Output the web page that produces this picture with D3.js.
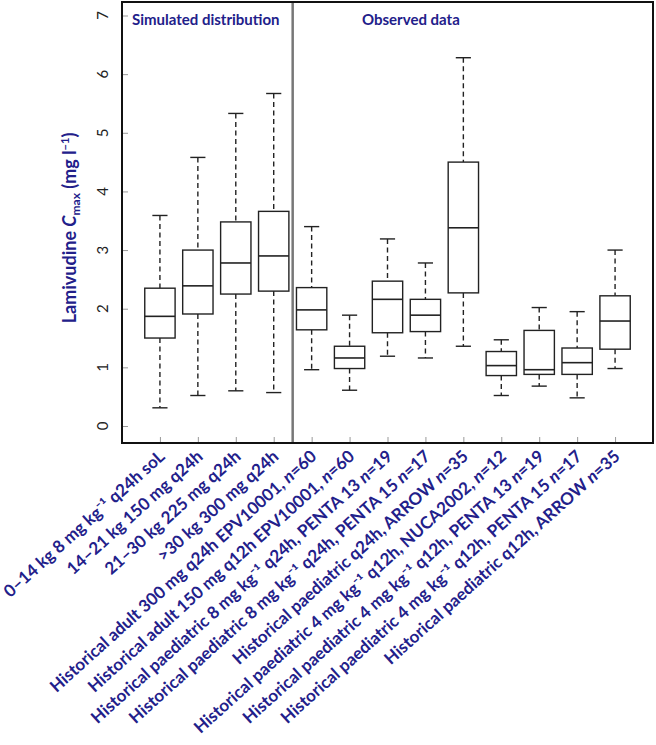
<!DOCTYPE html>
<html><head><meta charset="utf-8">
<script src="https://cdn.jsdelivr.net/npm/d3@7"></script>
<style>body{margin:0;background:#fff}</style>
</head><body>
<script>
// ---- data ----
const labels = [
  "0–14 kg 8 mg kg⁻¹ q24h soL",
  "14–21 kg 150 mg q24h",
  "21–30 kg 225 mg q24h",
  ">30 kg 300 mg q24h",
  "Historical adult 300 mg q24h EPV10001, {n}=60",
  "Historical adult 150 mg q12h EPV10001, {n}=60",
  "Historical paediatric 8 mg kg⁻¹ q24h, PENTA 13 {n}=19",
  "Historical paediatric 8 mg kg⁻¹ q24h, PENTA 15 {n}=17",
  "Historical paediatric q24h, ARROW {n}=35",
  "Historical paediatric 4 mg kg⁻¹ q12h, NUCA2002, {n}=12",
  "Historical paediatric 4 mg kg⁻¹ q12h, PENTA 13 {n}=19",
  "Historical paediatric 4 mg kg⁻¹ q12h, PENTA 15 {n}=17",
  "Historical paediatric q12h, ARROW {n}=35"
];
const whiskLow  = [0.31, 0.52, 0.60, 0.57, 0.96, 0.61, 1.19, 1.16, 1.36, 0.52, 0.68, 0.48, 0.98];
const q1        = [1.50, 1.91, 2.25, 2.30, 1.64, 0.98, 1.59, 1.61, 2.27, 0.86, 0.88, 0.88, 1.31];
const median    = [1.87, 2.39, 2.78, 2.90, 1.98, 1.16, 2.16, 1.89, 3.38, 1.03, 0.96, 1.08, 1.79];
const q3        = [2.35, 3.00, 3.48, 3.66, 2.36, 1.36, 2.47, 2.16, 4.50, 1.27, 1.63, 1.33, 2.22];
const whiskHigh = [3.59, 4.58, 5.33, 5.67, 3.40, 1.89, 3.19, 2.78, 6.28, 1.47, 2.02, 1.95, 3.00];
const yTicks = [0, 1, 2, 3, 4, 5, 6, 7];
const panelTitles = ["Simulated distribution", "Observed data"];

// ---- layout ----
const W = 656, H = 745;
const navy = "#22208a";
const svg = d3.select("body").append("svg").attr("width", W).attr("height", H)
  .style("font-family", "Lato, 'Open Sans', sans-serif");

const x = d3.scaleLinear().domain([0, 14]).range([122, 653]);
const y = d3.scaleLinear().domain([0, 7]).range([426, 15.5]);

const data = labels.map((l, i) => ({i: i + 1, label: l, lo: whiskLow[i], q1: q1[i], med: median[i], q3: q3[i], hi: whiskHigh[i]}));

// ticks (inside, gray)
const yAxis = d3.axisRight(y).tickValues(yTicks).tickSize(6).tickFormat("");
const gy = svg.append("g").attr("transform", `translate(${x(0)},0)`).call(yAxis);
gy.select(".domain").remove();
gy.selectAll("line").attr("stroke", "#999");

const xAxis = d3.axisTop(x).tickValues(d3.range(1, 14)).tickSize(6).tickFormat("");
const gx = svg.append("g").attr("transform", `translate(0,${443})`).call(xAxis);
gx.select(".domain").remove();
gx.selectAll("line").attr("stroke", "#999");

// y tick labels rotated
svg.append("g").selectAll("text").data(yTicks).join("text")
  .attr("transform", d => `translate(108,${y(d)}) rotate(-90)`)
  .attr("text-anchor", "middle")
  .attr("font-size", 15).attr("fill", "#222")
  .text(d => d);

// separator
svg.append("line").attr("x1", x(4.5)).attr("x2", x(4.5)).attr("y1", 2).attr("y2", 443)
  .attr("stroke", "#777").attr("stroke-width", 2.5);

// boxes
const bw = 0.4, cw = 0.2;
const g = svg.append("g").attr("stroke", "#222").attr("stroke-width", 1.4).attr("fill", "none");
const b = g.selectAll("g").data(data).join("g");
b.append("line").attr("x1", d => x(d.i)).attr("x2", d => x(d.i)).attr("y1", d => y(d.hi)).attr("y2", d => y(d.q3)).attr("stroke-dasharray", "5,3.5");
b.append("line").attr("x1", d => x(d.i)).attr("x2", d => x(d.i)).attr("y1", d => y(d.q1)).attr("y2", d => y(d.lo)).attr("stroke-dasharray", "5,3.5");
b.append("line").attr("x1", d => x(d.i - cw)).attr("x2", d => x(d.i + cw)).attr("y1", d => y(d.hi)).attr("y2", d => y(d.hi));
b.append("line").attr("x1", d => x(d.i - cw)).attr("x2", d => x(d.i + cw)).attr("y1", d => y(d.lo)).attr("y2", d => y(d.lo));
b.append("rect").attr("x", d => x(d.i - bw)).attr("width", d => x(d.i + bw) - x(d.i - bw))
  .attr("y", d => y(d.q3)).attr("height", d => y(d.q1) - y(d.q3)).attr("fill", "#fff");
b.append("line").attr("x1", d => x(d.i - bw)).attr("x2", d => x(d.i + bw)).attr("y1", d => y(d.med)).attr("y2", d => y(d.med)).attr("stroke-width", 1.6);

// frame
svg.append("rect").attr("x", 122).attr("y", 2).attr("width", 653 - 122).attr("height", 441)
  .attr("fill", "none").attr("stroke", "#111").attr("stroke-width", 2);

// panel titles
svg.append("text").attr("x", 132).attr("y", 25).attr("font-size", 15).attr("font-weight", "bold").attr("fill", navy).text(panelTitles[0]);
svg.append("text").attr("x", 362).attr("y", 25).attr("font-size", 15).attr("font-weight", "bold").attr("fill", navy).text(panelTitles[1]);

// y axis title
const yt = svg.append("text").attr("transform", "translate(76,228) rotate(-90)")
  .attr("text-anchor", "middle").attr("font-size", 18).attr("font-weight", "bold").attr("fill", navy);
yt.append("tspan").text("Lamivudine ");
yt.append("tspan").attr("font-style", "italic").text("C");
yt.append("tspan").attr("font-size", 12).attr("dy", 4).text("max");
yt.append("tspan").attr("dy", -4).text(" (mg l");
yt.append("tspan").attr("font-size", 11).attr("dy", -7).text("−1");
yt.append("tspan").attr("dy", 7).text(")");

// x labels
const xl = svg.append("g").selectAll("text").data(data).join("text")
  .attr("transform", d => `translate(${x(d.i) + 6},${458}) rotate(-42)`)
  .attr("text-anchor", "end").attr("font-size", 17).attr("font-weight", "bold").attr("fill", navy);
xl.each(function(d) {
  const t = d3.select(this);
  const parts = d.label.split("{n}");
  t.append("tspan").text(parts[0]);
  if (parts.length > 1) {
    t.append("tspan").attr("font-style", "italic").text("n");
    t.append("tspan").text(parts[1]);
  }
});
</script>
</body></html>
